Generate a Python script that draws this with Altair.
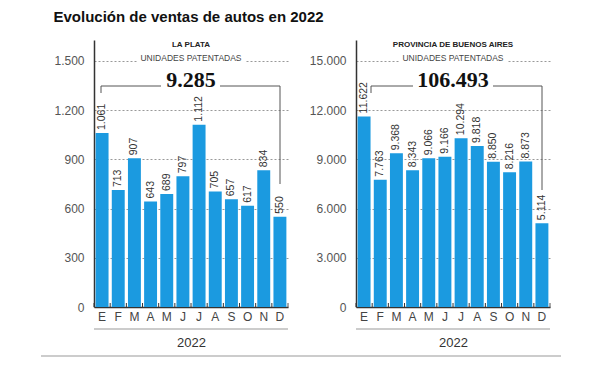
import altair as alt
import pandas as pd

title_text = "Evolución de ventas de autos en 2022"
months = ["E", "F", "M", "A", "M", "J", "J", "A", "S", "O", "N", "D"]
la_plata = [1061, 713, 907, 643, 689, 797, 1112, 705, 657, 617, 834, 550]
pba = [11622, 7763, 9368, 8343, 9066, 9166, 10294, 9818, 8850, 8216, 8873, 5114]
regions = ["LA PLATA", "PROVINCIA DE BUENOS AIRES"]
subtitle = "UNIDADES PATENTADAS"
year = "2022"
ticks_lp = [0, 300, 600, 900, 1200, 1500]
ticks_pba = [0, 3000, 6000, 9000, 12000, 15000]

W, H = 194, 267
BLUE = "#1b9ae0"
FONT = "Liberation Sans"
FMT_AXIS = "replace(format(datum.value, ','), ',', '.')"
FMT_V = "replace(format(datum.v, ','), ',', '.')"
FMT_T = "replace(format(datum.total, ','), ',', '.')"
month_expr = "[" + ",".join(f"'{m}'" for m in months) + "][datum.value]"

one = pd.DataFrame({"a": [0]})


def seg(x1, y1, x2, y2):
    return alt.Chart(one).mark_rule(color="#555", strokeWidth=1).encode(
        x=alt.value(x1), x2=alt.value(x2), y=alt.value(y1), y2=alt.value(y2)
    )


def panel(values, region, ymax, ticks, tw, drop):
    df = pd.DataFrame({"i": list(range(12)), "v": values})
    base = alt.Chart(df)

    def X(**kw):
        return alt.X(
            "i:O",
            scale=alt.Scale(paddingInner=0.2, paddingOuter=0.1),
            axis=alt.Axis(
                labelExpr=month_expr, labelAngle=0, ticks=False,
                domainColor="#333", domainWidth=1.5,
                labelFont=FONT, labelFontSize=12, labelColor="#444", labelPadding=4,
                title=year, titleFont=FONT, titleFontSize=13, titleFontWeight="normal",
                titleColor="#333", titlePadding=14,
            ),
            **kw,
        )

    Y = alt.Y(
        "v:Q",
        scale=alt.Scale(domain=[0, ymax], nice=False, zero=True),
        axis=alt.Axis(
            values=ticks, labelExpr=FMT_AXIS, grid=True, gridDash=[2, 2],
            gridColor="#999", gridWidth=1, domainColor="#333", domainWidth=1.5,
            ticks=False, labelPadding=10, labelFont=FONT, labelFontSize=12,
            labelColor="#555", title=None,
        ),
    )

    bars = base.mark_bar(color=BLUE).encode(x=X(), y=Y)
    labels = base.transform_calculate(lab=FMT_V).mark_text(
        angle=270, align="left", baseline="middle", dx=3,
        font=FONT, fontSize=10.5, color="#333"
    ).encode(x=X(), y=Y, text="lab:N")
    tks = base.mark_rule(color="#333", strokeWidth=1, xOffset=-1.6).encode(
        x=X(bandPosition=0), y=alt.value(H), y2=alt.value(H - 4)
    )
    endtick = seg(W, H, W, H - 4)
    rect = alt.Chart(one).mark_rect(color="white").encode(
        x=alt.value(W / 2 - 54), x2=alt.value(W / 2 + 54),
        y=alt.value(13), y2=alt.value(23)
    )
    t_region = alt.Chart(pd.DataFrame({"t": [region]})).mark_text(
        font=FONT, fontSize=8, fontWeight="bold", color="#222", baseline="middle"
    ).encode(text="t:N", x=alt.value(W / 2), y=alt.value(5))
    t_sub = alt.Chart(pd.DataFrame({"t": [subtitle]})).mark_text(
        font=FONT, fontSize=8.5, color="#444", baseline="middle"
    ).encode(text="t:N", x=alt.value(W / 2), y=alt.value(18))
    total = base.transform_aggregate(total="sum(v)").transform_calculate(lab=FMT_T).mark_text(
        font="Liberation Serif", fontSize=22, fontWeight="bold", color="#111",
        baseline="alphabetic", align="center"
    ).encode(text="lab:N", x=alt.value(W / 2), y=alt.value(47))
    bl = seg(tw[0], 46, tw[1], 46)
    br = seg(tw[2], 46, tw[3], 46)
    vl = seg(tw[0], 46, tw[0], 53)
    vr = seg(tw[3], 46, tw[3], drop)
    under = alt.Chart(one).mark_rule(color="#bbb", strokeWidth=1.5).encode(
        x=alt.value(0), x2=alt.value(W), y=alt.value(H + 22)
    )
    layers = [bars, labels, tks, endtick, rect, t_region, t_sub, total, bl, br, vl, vr, under]
    return alt.layer(*layers).properties(width=W, height=H)


left = panel(la_plata, regions[0], 1628, ticks_lp, [7, 67, 126, 186], 144)
page_line = alt.Chart(one).mark_rule(color="#999", strokeWidth=1).encode(
    x=alt.value(-53), x2=alt.value(467), y=alt.value(H + 49)
)
left = alt.layer(left, page_line)
right = panel(pba, regions[1], 16280, ticks_pba, [15, 57, 137, 186], 150)

chart = alt.hconcat(left, right, spacing=68, bounds="flush").resolve_scale(
    x="independent", y="independent"
).properties(
    title=alt.TitleParams(
        title_text, anchor="start", frame="bounds", font=FONT, fontSize=15,
        fontWeight="bold", color="#111", offset=15, dx=13
    ),
    padding={"left": 32, "top": 2, "right": 5, "bottom": 0},
).configure_view(stroke=None)

chart.save("out.html", embed_options={"renderer": "svg", "actions": False})
